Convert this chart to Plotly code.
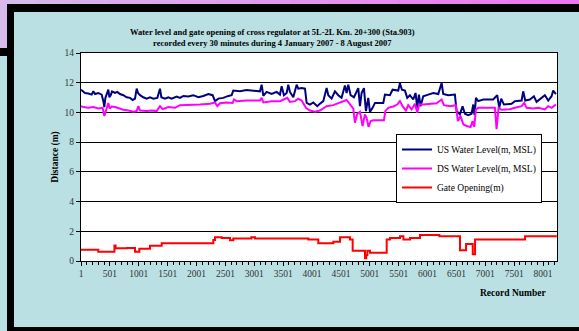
import plotly.graph_objects as go

# ---------------- data ----------------
us_record = [1, 30, 71, 128, 186, 215, 244, 301, 359, 388, 405, 423, 446, 474, 492, 515, 538, 590, 630, 676,
             734, 792, 850, 896, 936, 965, 988, 1023, 1080, 1138, 1196, 1253, 1323, 1369, 1392, 1455, 1513, 1571,
             1657, 1715, 1773, 1859, 1946, 2032, 2119, 2205, 2280, 2321, 2379, 2465, 2552, 2609, 2638, 2754, 2869,
             2984, 3100, 3129, 3158, 3215, 3302, 3388, 3446, 3475, 3515, 3562, 3590, 3619, 3677, 3735, 3763, 3821,
             3879, 3908, 3965, 4023, 4092, 4138, 4196, 4254, 4283, 4340, 4398, 4456, 4513, 4571, 4600, 4629, 4669,
             4727, 4802, 4831, 4860, 4900, 4935, 4975, 5004, 5050, 5091, 5235, 5264, 5350, 5396, 5494, 5523, 5558,
             5610, 5650, 5696, 5754, 5794, 5823, 5852, 5881, 5927, 6014, 6100, 6187, 6245, 6273, 6360, 6475, 6504,
             6562, 6608, 6648, 6706, 6764, 6793, 6816, 6839, 6879, 6966, 7139, 7208, 7243, 7277, 7323, 7456, 7514,
             7630, 7658, 7693, 7774, 7843, 7889, 7975, 8033, 8091, 8149, 8177, 8224]
us_level = [11.53, 11.42, 11.31, 11.27, 11.2, 11.42, 11.24, 11.31, 11.2, 10.76, 10.36, 10.98, 11.2, 11.53, 11.02,
            11.16, 11.42, 11.31, 11.38, 11.24, 11.16, 11.02, 10.98, 10.84, 10.93, 11.6, 11.31, 11.16, 11.02, 10.93,
            11.02, 10.93, 10.98, 11.6, 11.02, 10.93, 11.02, 10.93, 11.07, 10.98, 11.11, 11.07, 11.16, 11.02, 11.11,
            11.24, 11.16, 10.76, 10.93, 10.98, 11.11, 11.16, 11.47, 11.42, 11.51, 11.47, 11.42, 11.87, 11.11, 11.38,
            11.24, 11.38, 11.2, 11.76, 11.16, 11.31, 11.87, 11.38, 11.02, 11.87, 11.6, 11.64, 11.6, 10.64, 10.53,
            10.67, 10.42, 10.58, 10.76, 11.64, 11.16, 10.93, 11.42, 11.16, 10.98, 11.82, 11.31, 11.87, 11.16, 11.02,
            11.64, 10.42, 11.31, 11.64, 10.09, 10.98, 10.04, 10.31, 10.64, 10.64, 11.2, 11.16, 11.53, 11.47, 11.96,
            11.53, 11.47, 10.98, 11.16, 10.87, 11.31, 10.31, 11.2, 10.42, 11.09, 11.2, 11.31, 11.24, 11.98, 11.24,
            11.16, 11.2, 10.09, 9.87, 10.42, 9.91, 9.82, 9.91, 10.53, 9.82, 10.98, 10.76, 10.87, 10.87, 11.16, 10.31,
            10.93, 10.53, 10.58, 10.76, 10.8, 11.42, 10.8, 10.87, 11.09, 10.71, 10.98, 11.16, 10.8, 11.09, 11.47,
            11.24]

ds_record = [1, 42, 128, 215, 301, 376, 405, 434, 474, 498, 532, 590, 648, 734, 821, 907, 965, 994, 1023, 1138,
             1225, 1311, 1369, 1415, 1513, 1628, 1715, 1888, 2061, 2234, 2321, 2361, 2407, 2523, 2627, 2650, 2696,
             2869, 3100, 3129, 3158, 3302, 3446, 3573, 3619, 3706, 3763, 3821, 3896, 3965, 4052, 4138, 4254, 4369,
             4485, 4600, 4669, 4715, 4744, 4785, 4831, 4877, 4917, 4946, 4981, 5016, 5062, 5246, 5270, 5321, 5408,
             5477, 5523, 5569, 5627, 5667, 5725, 5783, 5823, 5858, 5927, 6043, 6158, 6245, 6285, 6389, 6492, 6527,
             6573, 6620, 6677, 6747, 6781, 6810, 6839, 6879, 7168, 7197, 7231, 7283, 7427, 7514, 7630, 7676, 7716,
             7832, 7918, 8033, 8091, 8149, 8224]
ds_level = [10.42, 10.36, 10.31, 10.36, 10.27, 10.31, 9.76, 10.2, 10.64, 10.27, 10.4, 10.36, 10.27, 10.18, 10.13,
            10.04, 10.09, 10.42, 10.13, 10.09, 10.13, 10.09, 10.42, 10.22, 10.36, 10.31, 10.49, 10.49, 10.53, 10.58,
            10.67, 10.42, 10.62, 10.67, 10.64, 10.87, 10.76, 10.8, 10.8, 10.98, 10.67, 10.76, 10.76, 10.98, 10.71,
            10.76, 10.93, 10.8, 10.31, 10.13, 10.04, 10.13, 10.42, 10.49, 10.67, 10.84, 10.49, 10.27, 9.31, 9.91,
            10.04, 9.09, 9.87, 9.64, 9.02, 9.42, 9.47, 9.47, 10.09, 10.31, 10.4, 10.53, 10.76, 10.42, 10.13, 10.49,
            10.2, 10.58, 9.98, 10.53, 10.53, 10.58, 10.62, 10.87, 10.49, 10.42, 10.49, 9.42, 9.76, 9.2, 9.09, 9.02,
            9.42, 9.02, 10.2, 10.31, 10.31, 8.87, 10.31, 10.18, 10.22, 10.31, 10.42, 10.64, 10.31, 10.27, 10.31,
            10.2, 10.42, 10.31, 10.53]

gate_record = [1, 300, 580, 600, 800, 936, 1011, 1196, 1398, 2292, 2321, 2437, 2581, 2638, 2950, 3014, 3937, 4110,
               4370, 4486, 4659, 4705, 4919, 4940, 4960, 5005, 5294, 5352, 5525, 5583, 5698, 5871, 6206, 6564, 6668,
               6784, 6824, 7690, 8240]
gate_opening = [0.75, 0.63, 1.05, 0.85, 0.87, 0.63, 0.83, 1.03, 1.19, 1.41, 1.6, 1.55, 1.4, 1.52, 1.6, 1.52, 1.45,
                1.19, 1.3, 1.6, 1.45, 0.69, 0.18, 0.4, 0.69, 0.56, 1.45, 1.55, 1.67, 1.45, 1.55, 1.75, 1.67, 0.72,
                1.14, 0.45, 1.45, 1.67, 1.67]

x_tick_values = [1, 501, 1001, 1501, 2001, 2501, 3001, 3501, 4001, 4501, 5001, 5501, 6001, 6501, 7001, 7501, 8001]
y_tick_values = [0, 2, 4, 6, 8, 10, 12, 14]

series_names = ["US Water Level(m, MSL)", "DS Water Level(m, MSL)", "Gate Opening(m)"]
title_lines = ["Water level and gate opening of cross regulator at 5L-2L Km. 20+300 (Sta.903)",
               "recorded every 30 minutes during 4 January 2007 - 8 August 2007"]

# ---------------- figure ----------------
SERIF = "Liberation Serif, Times New Roman, serif"
W, H = 579, 331
L, R, T, B = 81, 22, 53, 70
PW, PH = W - L - R, H - T - B


def px(xp):
    return (xp - L) / PW


def py(yp):
    return (H - B - yp) / PH


fig = go.Figure()
fig.add_trace(go.Scatter(x=us_record, y=us_level, mode="lines", name=series_names[0],
                         line=dict(color="#000080", width=2)))
fig.add_trace(go.Scatter(x=ds_record, y=ds_level, mode="lines", name=series_names[1],
                         line=dict(color="#FF00FF", width=2)))
fig.add_trace(go.Scatter(x=gate_record, y=gate_opening, mode="lines", name=series_names[2],
                         line=dict(color="#FF0000", width=2, shape="hv")))

shapes = []
# purple gradient band on top and on the left
n = 16
c0 = (214, 186, 234)
c1 = (236, 120, 240)
for i in range(n):
    t = i / (n - 1)
    col = "rgb(%d,%d,%d)" % tuple(int(c0[k] + (c1[k] - c0[k]) * t) for k in range(3))
    shapes.append(dict(type="rect", xref="paper", yref="paper", layer="below",
                       x0=px(W * i / n), x1=px(W * (i + 1) / n + 1), y0=py(0), y1=py(5),
                       fillcolor=col, line=dict(width=0)))
shapes.append(dict(type="rect", xref="paper", yref="paper", layer="below",
                   x0=px(0), x1=px(8), y0=py(0), y1=py(49), fillcolor="rgb(214,186,234)", line=dict(width=0)))
# black frame pieces
for (x0, y0, x1, y1) in [(7, 4, W, 12), (7, 4, 14, H), (0, 48, 8, 56), (7, 327, W, H)]:
    shapes.append(dict(type="rect", xref="paper", yref="paper", layer="below",
                       x0=px(x0), x1=px(x1), y0=py(y0), y1=py(y1), fillcolor="#000000", line=dict(width=0)))

annotations = [
    dict(text="<b>" + title_lines[0] + "</b><br><b>" + title_lines[1] + "</b>", xref="paper", yref="paper",
         x=px(272), y=py(37.5), xanchor="center", yanchor="middle", showarrow=False,
         font=dict(family=SERIF, size=8.5, color="#000000"), align="center"),
    dict(text="<b>Record Number</b>", xref="paper", yref="paper", x=px(513), y=py(293),
         xanchor="center", yanchor="middle", showarrow=False, font=dict(family=SERIF, size=9.5, color="#000000")),
]

fig.update_layout(
    width=W, height=H,
    margin=dict(l=L, r=R, t=T, b=B),
    paper_bgcolor="rgb(186,224,227)",
    plot_bgcolor="#FFFFFF",
    showlegend=True,
    legend=dict(x=px(396), y=py(134), xanchor="left", yanchor="top",
                bgcolor="#FFFFFF", bordercolor="#000000", borderwidth=1,
                font=dict(family=SERIF, size=9.5, color="#000000"),
                itemwidth=30, tracegroupgap=0),
    shapes=shapes,
    annotations=annotations,
    font=dict(family=SERIF),
)

fig.update_xaxes(range=[1, 8243], tickvals=x_tick_values, ticktext=[str(v) for v in x_tick_values],
                 ticks="outside", ticklen=4, tickcolor="#000000", tickwidth=1,
                 minor=dict(dtick=100, tick0=1, ticks="outside", ticklen=3, tickcolor="#000000"),
                 showgrid=False, zeroline=False, showline=True, linecolor="#000000", linewidth=1, mirror=True,
                 tickfont=dict(family=SERIF, size=9.5, color="#333333"))
fig.update_yaxes(range=[0, 14], tickvals=y_tick_values, ticks="outside", ticklen=4, tickcolor="#000000",
                 showgrid=True, gridcolor="#000000", gridwidth=1, zeroline=False,
                 showline=True, linecolor="#000000", linewidth=1, mirror=True,
                 tickfont=dict(family=SERIF, size=9.5, color="#333333"),
                 title=dict(text="<b>Distance (m)</b>", font=dict(family=SERIF, size=9.5, color="#000000"),
                            standoff=4))

fig.write_html("out.html", config={"displayModeBar": False},
               post_script="document.body.style.margin='0';")
